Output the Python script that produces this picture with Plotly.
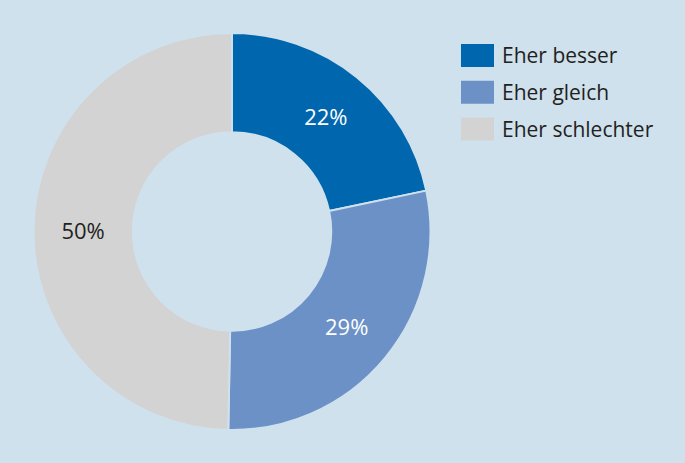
import plotly.graph_objects as go

# survey answers (share in %)
labels = ["Eher besser", "Eher gleich", "Eher schlechter"]
values = [21.7, 28.6, 49.7]
colors = ["#0066ae", "#6b91c6", "#d3d3d3"]
text_colors = ["#ffffff", "#ffffff", "#231f20"]

bg = "#cfe1ed"
W, H = 685, 463

fig = go.Figure()

fig.add_trace(go.Pie(
    labels=labels,
    values=values,
    hole=0.5,
    sort=False,
    direction="clockwise",
    rotation=0,
    marker=dict(colors=colors, line=dict(color=bg, width=2)),
    texttemplate="%{percent:.0%}",
    textposition="inside",
    insidetextorientation="horizontal",
    textfont=dict(family="Open Sans", size=22, color=text_colors),
    domain=dict(x=[33 / W, 431 / W], y=[(H - 430) / H, (H - 33) / H]),
    showlegend=False,
    hoverinfo="label+percent",
))

# legend drawn as boxes + labels
box_top = 44
step = 36.8
for i, (lab, col) in enumerate(zip(labels, colors)):
    y0 = box_top + i * step
    fig.add_shape(type="rect", xref="paper", yref="paper",
                  x0=461 / W, x1=494 / W,
                  y0=1 - (y0 + 23) / H, y1=1 - y0 / H,
                  fillcolor=col, line=dict(width=0))
    fig.add_annotation(xref="paper", yref="paper",
                       x=500 / W, y=1 - (y0 + 11.5) / H,
                       text=lab, showarrow=False,
                       xanchor="left", yanchor="middle",
                       font=dict(family="Open Sans", size=21, color="#231f20"))

fig.update_layout(
    width=W, height=H,
    margin=dict(l=0, r=0, t=0, b=0),
    paper_bgcolor=bg,
    plot_bgcolor=bg,
)

# remove the default page margin so the chart fills the window
fig.write_html("out.html", config={"displayModeBar": False},
               post_script="document.body.style.margin='0';")
